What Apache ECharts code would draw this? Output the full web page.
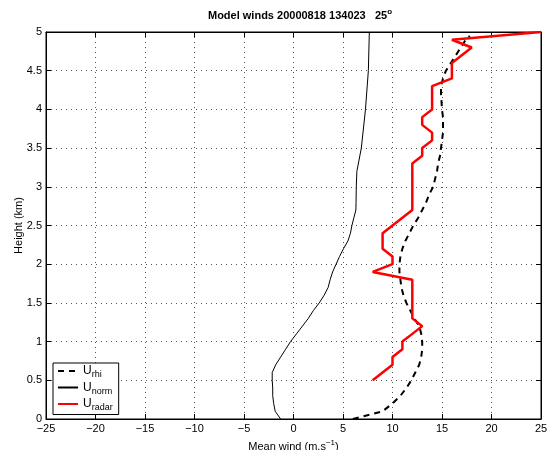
<!DOCTYPE html>
<html>
<head>
<meta charset="utf-8">
<script src="https://cdn.jsdelivr.net/npm/echarts@6/dist/echarts.min.js"></script>
<style>
html, body { margin: 0; padding: 0; background: #fff; }
#chart { width: 548px; height: 450px; }
</style>
</head>
<body>
<div id="chart"></div>
<script>
// heights (km) and winds (m/s)
var rhiHeight = [0, 0.1, 0.2, 0.3, 0.4, 0.5, 0.6, 0.7, 0.8, 0.9, 1.0, 1.1, 1.2, 1.3, 1.4, 1.5, 1.6, 1.7, 1.8, 1.9, 2.0, 2.1, 2.2, 2.3, 2.4, 2.5, 2.6, 2.7, 2.8, 2.9, 3.0, 3.1, 3.2, 3.3, 3.4, 3.5, 3.6, 3.7, 3.8, 3.9, 4.0, 4.1, 4.2, 4.3, 4.4, 4.5, 4.6, 4.7, 4.8, 4.9, 4.95];
var rhiWind = [6, 9, 10, 10.8, 11.4, 11.9, 12.3, 12.7, 12.9, 13.0, 13.0, 12.9, 12.7, 12.2, 11.8, 11.4, 11.1, 10.9, 10.8, 10.7, 10.7, 10.8, 11.0, 11.3, 11.7, 12.1, 12.6, 13.0, 13.4, 13.7, 14.1, 14.3, 14.5, 14.6, 14.8, 14.9, 15.0, 15.1, 15.1, 15.1, 15.0, 14.95, 14.9, 14.9, 15.1, 15.4, 15.9, 16.4, 16.9, 17.4, 17.8];

var normHeight = [0, 0.1, 0.2, 0.3, 0.4, 0.5, 0.6, 0.7, 0.8, 0.9, 1.0, 1.1, 1.2, 1.3, 1.4, 1.5, 1.6, 1.7, 1.8, 1.9, 2.0, 2.1, 2.2, 2.3, 2.4, 2.5, 2.6, 2.7, 2.8, 3.0, 3.2, 3.5, 4.0, 4.5, 5.0];
var normWind = [-1.3, -1.85, -2.0, -2.1, -2.1, -2.15, -2.15, -1.8, -1.3, -0.8, -0.3, 0.3, 0.9, 1.5, 2.0, 2.6, 3.1, 3.5, 3.7, 3.95, 4.3, 4.65, 5.05, 5.5, 5.75, 5.9, 6.1, 6.3, 6.32, 6.34, 6.4, 6.85, 7.27, 7.56, 7.66];

var radarHeight = [0.5, 0.6, 0.7, 0.8, 0.9, 1.0, 1.1, 1.2, 1.3, 1.4, 1.5, 1.6, 1.7, 1.8, 1.9, 2.0, 2.1, 2.2, 2.3, 2.4, 2.5, 2.6, 2.7, 2.8, 2.9, 3.0, 3.1, 3.2, 3.3, 3.4, 3.5, 3.6, 3.7, 3.8, 3.9, 4.0, 4.1, 4.2, 4.3, 4.4, 4.5, 4.6, 4.7, 4.8, 4.9, 5.0];
var radarWind = [8, 9, 10, 10, 11, 11, 12, 13, 12, 12, 12, 12, 12, 12, 8, 10, 10, 9, 9, 9, 10, 11, 12, 12, 12, 12, 12, 12, 12, 13, 13, 14, 14, 13, 13, 14, 14, 14, 14, 16, 16, 16, 17, 18, 16, 25];

var seriesNames = ['rhi', 'norm', 'radar'];

function pairs(xs, ys) {
	var out = [];
	for (var i = 0; i < xs.length; i++) {
		out.push([xs[i], ys[i]]);
	}
	return out;
}

var font = 'Liberation Sans, Arial, sans-serif';
var chart = echarts.init(document.getElementById('chart'));

var option = {
	animation: false,
	backgroundColor: '#fff',
	textStyle: { fontFamily: font },
	title: {
		text: '{t|Model winds 20000818 134023   25}{o|o}',
		left: 295,
		textAlign: 'center',
		top: 3,
		textStyle: {
			rich: {
				t: { fontFamily: font, fontSize: 11, fontWeight: 'bold', color: '#000' },
				o: { fontFamily: font, fontSize: 8, fontWeight: 'bold', color: '#000', padding: [0, 0, 7, 0] }
			}
		}
	},
	grid: {
		left: 46, right: 7, top: 32, bottom: 31,
		outerBoundsMode: 'none',
		show: true, borderColor: '#000', borderWidth: 1, backgroundColor: '#fff'
	},
	legend: {
		orient: 'vertical',
		left: 53, top: 363,
		data: seriesNames,
		itemWidth: 20, itemHeight: 10, itemGap: 2,
		padding: [2, 6, 2, 4],
		backgroundColor: '#fff', borderColor: '#000', borderWidth: 1, borderRadius: 0,
		itemStyle: { opacity: 0 },
		formatter: function(name) {
			return '{u|U}{s|' + name + '}';
		},
		textStyle: {
			rich: {
				u: { fontFamily: font, fontSize: 12, color: '#000' },
				s: { fontFamily: font, fontSize: 9, color: '#000', padding: [8, 0, 0, 0] }
			}
		}
	},
	xAxis: [{
		type: 'value', min: -25, max: 25, interval: 5,
		name: '{n|Mean wind (m.s}{s|\u22121}{n|)}',
		nameLocation: 'middle', nameGap: 20,
		nameTextStyle: {
			rich: {
				n: { fontFamily: font, fontSize: 11, color: '#000' },
				s: { fontFamily: font, fontSize: 8, color: '#000', padding: [0, 0, 7, 0] }
			}
		},
		axisLine: { onZero: false, lineStyle: { color: '#000' } },
		axisTick: { inside: true, length: 5, lineStyle: { color: '#000' } },
		axisLabel: { color: '#000', fontSize: 11, margin: 4,
			formatter: function(v) { return String(v).replace('-', '\u2212'); } },
		splitLine: { show: true, lineStyle: { color: '#555', type: [1, 4], width: 1 } }
	}, {
		type: 'value', min: -25, max: 25, interval: 5, position: 'top',
		axisLine: { onZero: false, lineStyle: { color: '#000' } },
		axisTick: { inside: true, length: 5, lineStyle: { color: '#000' } },
		axisLabel: { show: false }, splitLine: { show: false }
	}],
	yAxis: [{
		type: 'value', min: 0, max: 5, interval: 0.5,
		name: 'Height (km)', nameLocation: 'middle', nameGap: 22,
		nameMoveOverlap: false,
		nameTextStyle: { color: '#000', fontSize: 11, fontFamily: font },
		axisLine: { onZero: false, lineStyle: { color: '#000' } },
		axisTick: { inside: true, length: 5, lineStyle: { color: '#000' } },
		axisLabel: { color: '#000', fontSize: 11, margin: 4 },
		splitLine: { show: true, lineStyle: { color: '#555', type: [1, 4], width: 1 } }
	}, {
		type: 'value', min: 0, max: 5, interval: 0.5, position: 'right',
		axisLine: { onZero: false, lineStyle: { color: '#000' } },
		axisTick: { inside: true, length: 5, lineStyle: { color: '#000' } },
		axisLabel: { show: false }, splitLine: { show: false }
	}],
	series: [{
		name: 'rhi', type: 'line', symbol: 'none', z: 3,
		data: pairs(rhiWind, rhiHeight),
		lineStyle: { color: '#000', width: 2, type: [6, 5] },
		itemStyle: { color: '#000' }
	}, {
		name: 'norm', type: 'line', symbol: 'none', z: 3,
		data: pairs(normWind, normHeight),
		lineStyle: { color: '#000', width: 1 },
		itemStyle: { color: '#000' }
	}, {
		name: 'radar', type: 'line', symbol: 'none', z: 4,
		data: pairs(radarWind, radarHeight),
		lineStyle: { color: '#ff0000', width: 2.5 },
		itemStyle: { color: '#ff0000' }
	}]
};

chart.setOption(option);
</script>
</body>
</html>
